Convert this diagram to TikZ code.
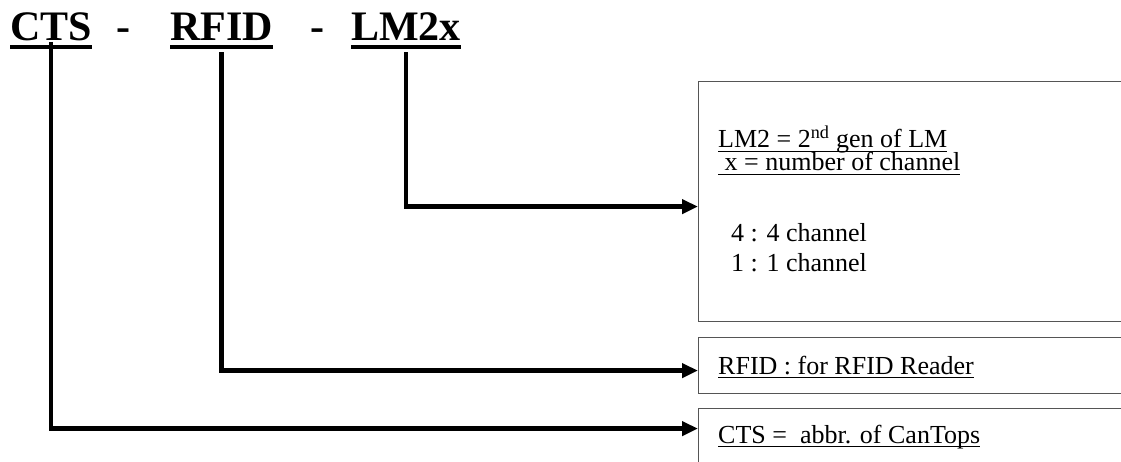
\documentclass[tikz,border=0pt]{standalone}
\usepackage{fontspec}
\setmainfont{Liberation Serif}
\usetikzlibrary{arrows.meta}
\definecolor{BoxGray}{HTML}{555555}

% underlined text with the rule just below the baseline
\newcommand{\ulthin}[1]{\setbox0=\hbox{#1}\rlap{\rule[-4pt]{\wd0}{1pt}}\box0}
\newcommand{\ulthick}[1]{\setbox0=\hbox{#1}\rlap{\rule[-8.5pt]{\wd0}{4pt}}\box0}

\tikzset{
  codepart/.style={font=\fontsize{42}{50}\selectfont\bfseries, inner sep=0pt, anchor=base west},
  notetext/.style={font=\fontsize{26}{30}\selectfont, inner sep=0pt, anchor=base west},
  infobox/.style={draw=BoxGray, line width=1.2pt, anchor=north west, minimum width=480pt},
  lead/.style={line width=4.5pt, -{Triangle[length=16pt,width=14pt]}},
}

\begin{document}
\begin{tikzpicture}[x=1pt,y=1pt]
\useasboundingbox (0,0) rectangle (1121,-462);
\clip (0,0) rectangle (1121,-462);

% part number
\node[codepart] (cts) at (10,-41) {\ulthick{CTS}};
\node[codepart, anchor=base] (dashA) at (123,-41) {-};
\node[codepart] (rfid) at (170,-41) {\ulthick{RFID}};
\node[codepart, anchor=base] (dashB) at (317,-41) {-};
\node[codepart] (lm) at (351,-41) {\ulthick{LM2x}};

% explanation boxes
\node[infobox, minimum height=240pt] (lmbox) at (698,-81) {};
\node[infobox, minimum height=56pt] (rfidbox) at (698,-337) {};
\node[infobox, minimum height=80pt] (ctsbox) at (698,-408) {};

\node[notetext] (lmA) at (718,-148) {\ulthin{LM2 = 2\textsuperscript{nd} gen of LM}};
\node[notetext] (lmB) at (718,-171) {\ulthin{\ x = number of channel}};
\node[notetext] (lmC) at (731,-242) {4 : 4 channel};
\node[notetext] (lmD) at (731,-272) {1 : 1 channel};
\node[notetext] (rfidtxt) at (718,-374) {\ulthin{RFID : for RFID Reader}};
\node[notetext] (ctstxt) at (718,-443) {\ulthin{CTS =\ \ abbr. of CanTops}};

% leaders
\draw[lead] ([yshift=-2.5pt]lm.south) |- ([yshift=-5pt]lmbox.west);
\draw[lead] ([yshift=-2.5pt]rfid.south) |- ([yshift=-5pt]rfidbox.west);
\draw[lead] ([yshift=-1pt]cts.base) |- ([yshift=20pt]ctsbox.west);
\end{tikzpicture}
\end{document}
